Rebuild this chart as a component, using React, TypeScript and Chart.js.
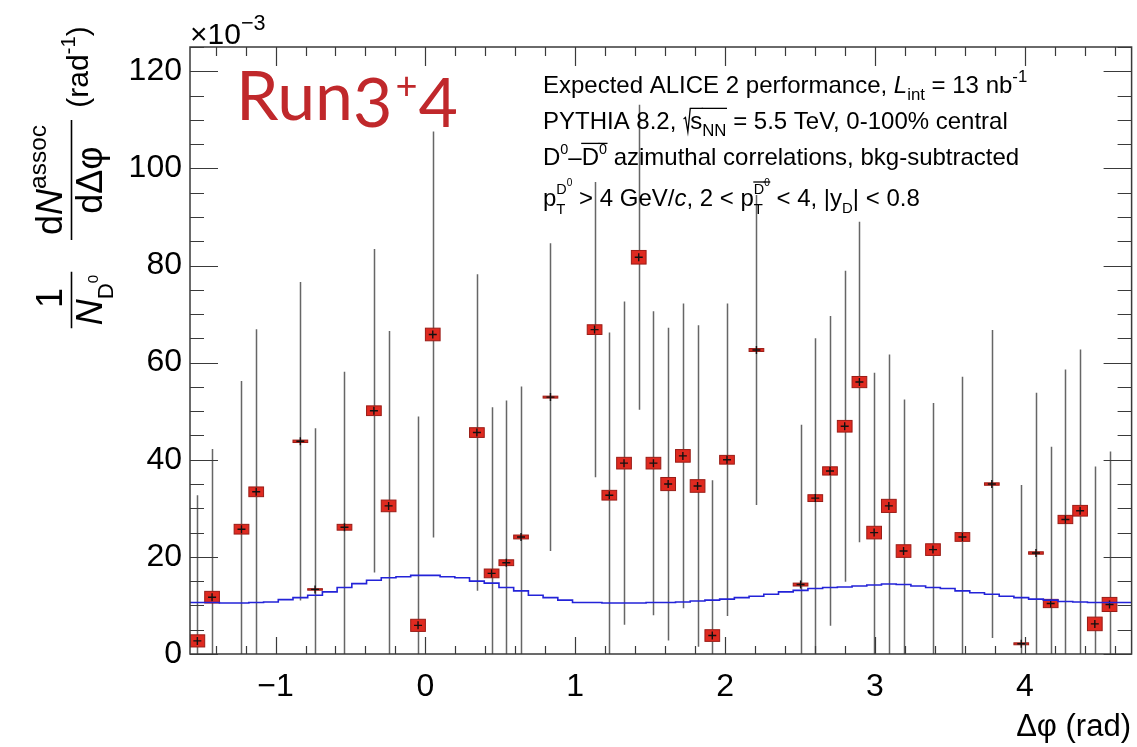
import React, { useEffect, useRef } from 'react';
import { Chart, registerables } from 'chart.js';

Chart.register(...registerables);

// ---------------- data ----------------
const X_MIN = -Math.PI / 2;
const X_MAX = (3 * Math.PI) / 2;
const N_BINS = 64;

const yTickValues = [0, 20, 40, 60, 80, 100, 120];
const xTickValues = [-1, 0, 1, 2, 3, 4];

// measured points (x1e-3), null where no point is visible
const pointValues: (number | null)[] = [
  2.7, 11.7, null, 25.7, 33.4, null, null, 43.8, 13.3, null, 26.1, null, 50.1, 30.5, null, 5.9,
  65.8, null, null, 45.6, 16.6, 18.8, 24.1, null, 52.9, null, null, 66.8, 32.7, 39.3, 81.7, 39.3,
  35.0, 40.8, 34.6, 3.8, 40.0, null, 62.6, null, null, 14.3, 32.1, 37.7, 46.9, 56.0, 25.0, 30.5,
  21.2, null, 21.5, null, 24.1, null, 35.0, null, 2.1, 20.8, 10.4, 27.7, 29.5, 6.2, 10.2, null,
];
const statErrors: (number | null)[] = [
  30, 30.5, null, 30.5, 33.5, null, null, 32.8, 33.2, null, 32, null, 33.3, 36, null, 43,
  41.8, null, null, 32.6, 34.2, 33.4, 31, null, 31.7, null, null, 30.4, 33.5, 33.3, 31.4, 31.3,
  32.2, 31.4, 33.1, 32, 32.2, null, 31.9, null, null, 32.9, 32.9, 31.9, 32, 33, 32.9, 31.2,
  31.2, null, 30.2, null, 33, null, 31.7, null, 32.7, 33, 32.3, 30.9, 33.2, 32.4, 31.5, null,
];
const systErrors: (number | null)[] = [
  1.25, 1.2, null, 1.0, 1.0, null, null, 0.25, 0.15, null, 0.6, null, 1.0, 1.2, null, 1.25,
  1.3, null, null, 1.0, 0.9, 0.6, 0.4, null, 0.2, null, null, 1.0, 1.0, 1.2, 1.4, 1.2,
  1.35, 1.3, 1.3, 1.2, 0.9, null, 0.3, null, null, 0.3, 0.7, 0.85, 1.2, 1.15, 1.3, 1.35,
  1.3, null, 1.2, null, 0.9, null, 0.25, null, 0.2, 0.25, 0.85, 0.85, 1.1, 1.4, 1.45, null,
];
// PYTHIA model histogram
const modelValues: number[] = [
  10.6, 10.6, 10.5, 10.5, 10.6, 10.7, 11.2, 11.6, 12.1, 12.8, 13.7, 14.5, 15.2, 15.7, 15.9, 16.2,
  16.2, 15.9, 15.7, 15.0, 14.6, 13.7, 13.0, 12.1, 11.6, 11.1, 10.6, 10.6, 10.5, 10.5, 10.5, 10.6,
  10.6, 10.7, 10.9, 11.1, 11.3, 11.6, 11.9, 12.3, 12.8, 13.1, 13.5, 13.7, 13.8, 14.0, 14.2, 14.4,
  14.3, 14.0, 13.7, 13.5, 13.0, 12.6, 12.3, 11.9, 11.6, 11.3, 11.1, 10.8, 10.7, 10.6, 10.6, 10.6,
];

// ---------------- helpers ----------------
const BIN_W = (X_MAX - X_MIN) / N_BINS;
const binCenter = (i: number) => X_MIN + (i + 0.5) * BIN_W;
const binEdge = (i: number) => X_MIN + i * BIN_W;

const FAMILY = '"Liberation Sans", Arial, Helvetica, sans-serif';
const fnt = (size: number, it?: boolean) => `${it ? 'italic ' : ''}${size}px ${FAMILY}`;

type Seg = { s: string; k?: number; dy?: number; it?: boolean; ov?: number; adv?: boolean; rad?: boolean };

function drawRich(ctx: CanvasRenderingContext2D, x: number, y: number, segs: Seg[], size: number, draw = true) {
  let cx = x;
  let stackW = 0;
  for (const seg of segs) {
    if (seg.rad) {
      const s = size;
      if (draw) {
        ctx.save();
        ctx.lineWidth = 1.3;
        ctx.beginPath();
        ctx.moveTo(cx + 0.02 * s, y - 0.42 * s);
        ctx.lineTo(cx + 0.1 * s, y - 0.48 * s);
        ctx.lineTo(cx + 0.2 * s, y + 0.12 * s);
        ctx.lineTo(cx + 0.3 * s, y - 0.86 * s);
        ctx.stroke();
        ctx.restore();
      }
      cx += 0.3 * s;
      continue;
    }
    const sz = size * (seg.k ?? 1);
    ctx.font = fnt(sz, seg.it);
    const m = ctx.measureText(seg.s).width;
    const by = y + (seg.dy ?? 0) * size;
    const w = seg.adv === false ? m : Math.max(m, stackW);
    if (draw) {
      ctx.fillText(seg.s, cx, by);
      if (seg.ov !== undefined) {
        ctx.save();
        ctx.lineWidth = 1.3;
        ctx.beginPath();
        const oy = y + seg.ov * size;
        ctx.moveTo(cx - 0.5, oy);
        ctx.lineTo(cx + w + 0.5, oy);
        ctx.stroke();
        ctx.restore();
      }
    }
    if (seg.adv === false) {
      stackW = Math.max(stackW, m);
    } else {
      cx += w;
      stackW = 0;
    }
  }
  return cx - x;
}

const statLines: Seg[][] = [
  [
    { s: 'Expected ALICE 2 performance, ' },
    { s: 'L', it: true },
    { s: 'int', k: 0.7, dy: 0.3 },
    { s: ' = 13 nb' },
    { s: '-1', k: 0.7, dy: -0.45 },
  ],
  [
    { s: 'PYTHIA 8.2, ' },
    { s: '', rad: true },
    { s: 's', ov: -0.86 },
    { s: 'NN', k: 0.7, dy: 0.3, ov: -0.86 },
    { s: ' = 5.5 TeV, 0-100% central' },
  ],
  [
    { s: 'D' },
    { s: '0', k: 0.6, dy: -0.45 },
    { s: '\u2013' },
    { s: 'D', ov: -0.9 },
    { s: '0', k: 0.6, dy: -0.45, ov: -0.9 },
    { s: ' azimuthal correlations, bkg-subtracted' },
  ],
  [
    { s: 'p' },
    { s: 'T', k: 0.62, dy: 0.32, adv: false },
    { s: 'D', k: 0.6, dy: -0.5 },
    { s: '0', k: 0.42, dy: -0.82 },
    { s: ' > 4 GeV/' },
    { s: 'c', it: true },
    { s: ', 2 < p' },
    { s: 'T', k: 0.62, dy: 0.32, adv: false },
    { s: 'D', k: 0.6, dy: -0.5, ov: -1.0 },
    { s: '0', k: 0.42, dy: -0.82, ov: -1.0 },
    { s: ' < 4, |y' },
    { s: 'D', k: 0.62, dy: 0.3 },
    { s: '| < 0.8' },
  ],
];
const statBaselines = [93, 129, 165, 206];

const frac1Num: Seg[] = [{ s: '1' }];
const frac1Den: Seg[] = [
  { s: 'N', it: true },
  { s: 'D', k: 0.62, dy: 0.3 },
  { s: '0', k: 0.42, dy: -0.1 },
];
const frac2Num: Seg[] = [{ s: 'd' }, { s: 'N', it: true }, { s: 'assoc', k: 0.68, dy: -0.45 }];
const frac2Den: Seg[] = [{ s: 'd\u0394\u03c6' }];
const unitSegs: Seg[] = [{ s: '(rad' }, { s: '-1', k: 0.68, dy: -0.45 }, { s: ')' }];

// ---------------- plugins ----------------
const errorBarPlugin = {
  id: 'errorBars',
  beforeDatasetsDraw(chart: any) {
    const { ctx, chartArea: a, scales } = chart;
    const xs = scales.x;
    const ys = scales.y;
    ctx.save();
    ctx.beginPath();
    ctx.rect(a.left, a.top, a.right - a.left, a.bottom - a.top);
    ctx.clip();
    ctx.strokeStyle = '#666';
    ctx.lineWidth = 1.5;
    pointValues.forEach((v, i) => {
      const e = statErrors[i];
      if (v == null || e == null) return;
      const px = Math.round(xs.getPixelForValue(binCenter(i))) + 0.5;
      ctx.beginPath();
      ctx.moveTo(px, ys.getPixelForValue(v - e));
      ctx.lineTo(px, ys.getPixelForValue(v + e));
      ctx.stroke();
    });
    pointValues.forEach((v, i) => {
      const s = systErrors[i];
      if (v == null || s == null) return;
      const x0 = xs.getPixelForValue(binCenter(i) - BIN_W * 0.5);
      const x1 = xs.getPixelForValue(binCenter(i) + BIN_W * 0.5);
      const y0 = ys.getPixelForValue(v + s);
      const y1 = ys.getPixelForValue(v - s);
      ctx.fillStyle = '#df2a20';
      ctx.fillRect(x0, y0, x1 - x0, Math.max(y1 - y0, 1.5));
      ctx.strokeStyle = '#9a1d17';
      ctx.lineWidth = 1;
      ctx.strokeRect(x0, y0, x1 - x0, Math.max(y1 - y0, 1.5));
    });
    ctx.restore();
  },
};

const framePlugin = {
  id: 'frameAndText',
  afterDraw(chart: any) {
    const { ctx, chartArea: a, scales } = chart;
    const xs = scales.x;
    const ys = scales.y;
    ctx.save();
    ctx.strokeStyle = '#3a3a3a';
    ctx.lineWidth = 1.5;
    ctx.strokeRect(a.left, a.top, a.right - a.left, a.bottom - a.top);
    ctx.lineWidth = 1.2;
    ctx.beginPath();
    // y ticks (left + right)
    for (let v = 0; v <= 125; v += 5) {
      const py = Math.round(ys.getPixelForValue(v)) + 0.5;
      const len = v % 20 === 0 ? 28 : 14;
      ctx.moveTo(a.left, py);
      ctx.lineTo(a.left + len, py);
      ctx.moveTo(a.right, py);
      ctx.lineTo(a.right - len, py);
    }
    // x ticks (bottom + top)
    for (let k = -7; k <= 23; k++) {
      const v = k * 0.2;
      if (v < X_MIN || v > X_MAX) continue;
      const px = Math.round(xs.getPixelForValue(v)) + 0.5;
      const major = k % 5 === 0;
      const lenB = major ? 17 : 8;
      const lenT = major ? 19 : 9;
      ctx.moveTo(px, a.bottom);
      ctx.lineTo(px, a.bottom - lenB);
      ctx.moveTo(px, a.top);
      ctx.lineTo(px, a.top + lenT);
    }
    ctx.stroke();

    // texts
    ctx.fillStyle = '#000';
    ctx.strokeStyle = '#000';
    ctx.textBaseline = 'alphabetic';
    ctx.textAlign = 'left';

    // exponent
    drawRich(ctx, 190, 44, [{ s: '\u00d710' }, { s: '\u22123', k: 0.72, dy: -0.48 }], 30);

    // stats
    statLines.forEach((segs, i) => drawRich(ctx, 543, statBaselines[i], segs, 24));

    // Run3+4
    ctx.fillStyle = '#c0282b';
    ctx.font = `400 68px Lato, "Open Sans", sans-serif`;
    let rx = 236;
    ctx.fillText('Run', rx, 120);
    rx += ctx.measureText('Run').width;
    ctx.fillText('3', rx, 127);
    rx += ctx.measureText('3').width + 3;
    ctx.font = `400 38px Lato, "Open Sans", sans-serif`;
    ctx.fillText('+', rx, 99);
    rx += ctx.measureText('+').width + 1;
    ctx.font = `400 68px Lato, "Open Sans", sans-serif`;
    ctx.fillText('4', rx, 127);

    // x title
    ctx.fillStyle = '#000';
    ctx.font = fnt(31);
    ctx.textAlign = 'right';
    ctx.fillText('\u0394\u03c6 (rad)', 1131, 736);
    ctx.textAlign = 'left';

    // y title (rotated)
    ctx.save();
    ctx.rotate(-Math.PI / 2);
    const S = 36;
    const center = (segs: Seg[], yc: number, xb: number, size = S) => {
      const w = drawRich(ctx, 0, 0, segs, size, false);
      drawRich(ctx, -yc - w / 2, xb, segs, size);
      return w;
    };
    const C1 = 300;
    const C2 = 180;
    const C3 = 67;
    center(frac1Num, C1 - 2, 62);
    const w1 = center(frac1Den, C1, 102);
    center(frac2Num, C2, 62);
    const w2n = drawRich(ctx, 0, 0, frac2Num, S, false);
    center(frac2Den, C2, 102);
    center(unitSegs, C3, 88, 30);
    ctx.restore();
    ctx.lineWidth = 1.6;
    ctx.beginPath();
    ctx.moveTo(71.5, C1 + w1 / 2 + 3);
    ctx.lineTo(71.5, C1 - w1 / 2 - 3);
    ctx.moveTo(71.5, C2 + w2n / 2 + 5);
    ctx.lineTo(71.5, C2 - w2n / 2 - 5);
    ctx.stroke();
    ctx.restore();
  },
};

export default function App() {
  const ref = useRef<HTMLCanvasElement | null>(null);
  useEffect(() => {
    if (!ref.current) return;
    const modelPts: { x: number; y: number }[] = [];
    modelValues.forEach((m, i) => {
      modelPts.push({ x: binEdge(i), y: m });
      modelPts.push({ x: binEdge(i + 1), y: m });
    });
    const markerPts: { x: number; y: number }[] = [];
    pointValues.forEach((v, i) => {
      if (v != null) markerPts.push({ x: binCenter(i), y: v });
    });
    const chart = new Chart(ref.current, {
      type: 'scatter',
      data: {
        datasets: [
          {
            type: 'line',
            label: 'PYTHIA 8.2',
            data: modelPts,
            borderColor: '#2323d8',
            borderWidth: 1.6,
            pointRadius: 0,
            fill: false,
            tension: 0,
          } as any,
          {
            label: 'data',
            data: markerPts,
            pointStyle: 'cross',
            pointRadius: 4,
            borderColor: '#111',
            borderWidth: 1.4,
            backgroundColor: '#111',
          },
        ],
      },
      options: {
        animation: false,
        responsive: false,
        events: [],
        layout: { padding: { top: 47, right: 3, left: 0, bottom: 0 } },
        plugins: { legend: { display: false }, tooltip: { enabled: false } },
        scales: {
          x: {
            type: 'linear',
            min: X_MIN,
            max: X_MAX,
            afterFit: (s: any) => {
              s.height = 93;
            },
            afterBuildTicks: (s: any) => {
              s.ticks = xTickValues.map((v) => ({ value: v }));
            },
            grid: { display: false, drawTicks: false },
            border: { display: false },
            ticks: {
              padding: 14,
              color: '#000',
              font: { family: FAMILY, size: 32 },
              callback: (v: any) => String(v).replace('-', '\u2212'),
            },
          },
          y: {
            type: 'linear',
            min: 0,
            max: 125,
            afterFit: (s: any) => {
              s.width = 190;
            },
            afterBuildTicks: (s: any) => {
              s.ticks = yTickValues.map((v) => ({ value: v }));
            },
            grid: { display: false, drawTicks: false },
            border: { display: false },
            ticks: {
              padding: 8,
              color: '#000',
              font: { family: FAMILY, size: 32 },
              callback: (v: any) => String(v),
            },
          },
        },
      },
      plugins: [errorBarPlugin, framePlugin],
    });
    return () => chart.destroy();
  }, []);
  return (
    <div style={{ position: 'absolute', left: 0, top: 0, width: 1137, height: 747, background: '#fff' }}>
      <canvas ref={ref} width={1137} height={747} />
    </div>
  );
}
